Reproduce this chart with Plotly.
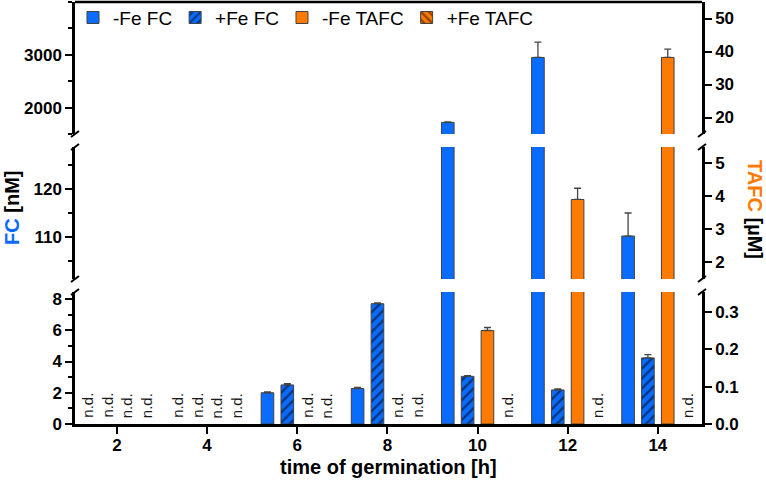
import plotly.graph_objects as go

# ---------------- data ----------------
times = [2, 4, 6, 8, 10, 12, 14]

minus_fe_fc = [None, None, 2.0, 2.27, 1720, 2950, 110.2]          # nM
minus_fe_fc_err = [0, 0, 0.05, 0.07, 10, 290, 4.8]
plus_fe_fc = [None, None, 2.5, 7.7, 3.05, 2.18, 4.23]             # nM
plus_fe_fc_err = [0, 0, 0.08, 0.05, 0.04, 0.06, 0.21]
minus_fe_tafc = [None, None, None, None, 0.25, 3.91, 38.2]        # uM
minus_fe_tafc_err = [0, 0, 0, 0, 0.008, 0.34, 2.5]
plus_fe_tafc = [None, None, None, None, None, None, None]         # uM
plus_fe_tafc_err = [0, 0, 0, 0, 0, 0, 0]

fc_ticks_low = [0, 2, 4, 6, 8]
fc_ticks_mid = [110, 120]
fc_ticks_high = [2000, 3000]
tafc_ticks_low = [0.0, 0.1, 0.2, 0.3]
tafc_ticks_mid = [2, 3, 4, 5]
tafc_ticks_high = [20, 30, 40, 50]

# ---------------- style ----------------
BLUE = "#0a6cff"
ORANGE = "#ff7a00"
FONT = "Arial, Liberation Sans, sans-serif"
W, H = 766, 486
ML, MR, MT, MB = 75, 64, 2, 62

# vertical segment domains (bottom, middle, top)
domains = [[0.0, 0.3128], [0.3436, 0.6564], [0.6872, 1.0]]
fc_ranges = [[0, 8.45], [101.25, 128.75], [1500, 4000]]
tafc_ranges = [[0, 0.353], [1.5, 5.5], [15, 55]]
left_axes = ["y", "y3", "y5"]
right_axes = ["y2", "y4", "y6"]

BARW = 0.28
series = [
    dict(name="-Fe FC", y=minus_fe_fc, err=minus_fe_fc_err, side="L", slot=-0.66,
         color=BLUE, shape=""),
    dict(name="+Fe FC", y=plus_fe_fc, err=plus_fe_fc_err, side="L", slot=-0.22,
         color=BLUE, shape="/"),
    dict(name="-Fe TAFC", y=minus_fe_tafc, err=minus_fe_tafc_err, side="R", slot=0.22,
         color=ORANGE, shape=""),
    dict(name="+Fe TAFC", y=plus_fe_tafc, err=plus_fe_tafc_err, side="R", slot=0.66,
         color=ORANGE, shape="\\"),
]

fig = go.Figure()
for s in series:
    axes = left_axes if s["side"] == "L" else right_axes
    for i, ax in enumerate(axes):
        marker = dict(color=s["color"], line=dict(color="#404040", width=1))
        if s["shape"]:
            marker["pattern"] = dict(shape=s["shape"], bgcolor=s["color"], fgcolor="black",
                                     size=7, solidity=0.35, fillmode="overlay")
        fig.add_trace(go.Bar(
            x=times, y=s["y"], name=s["name"], xaxis="x", yaxis=ax,
            offset=s["slot"] - BARW / 2, width=BARW,
            marker=marker, legendgroup=s["name"], showlegend=(i == 0),
            error_y=dict(type="data", symmetric=False, array=s["err"],
                         arrayminus=[0] * len(times), color="#444444",
                         thickness=1.3, width=3.5),
        ))

# n.d. labels for undetected values
annotations = []
for s in series:
    ax = "y" if s["side"] == "L" else "y2"
    for t, v in zip(times, s["y"]):
        if v is None:
            annotations.append(dict(
                x=t + s["slot"], y=0, xref="x", yref=ax, text="n.d.",
                textangle=-90, showarrow=False, yanchor="bottom", xanchor="center",
                yshift=4, font=dict(family=FONT, size=15, color="#1a1a1a")))

annotations += [
    dict(x=-0.1005, y=0.512, xref="paper", yref="paper", showarrow=False,
         xanchor="center", yanchor="middle",
         text="<b><span style='color:%s'>FC</span> [nM]</b>" % BLUE, textangle=-90,
         font=dict(family=FONT, size=20, color="black")),
    dict(x=1.0845, y=0.507, xref="paper", yref="paper", showarrow=False,
         xanchor="center", yanchor="middle",
         text="<b><span style='color:%s'>TAFC</span> [µM]</b>" % ORANGE, textangle=90,
         font=dict(family=FONT, size=20, color="black")),
    dict(x=0.5, y=-0.102, xref="paper", yref="paper", showarrow=False,
         xanchor="center", yanchor="middle",
         text="<b>time of germination [h]</b>",
         font=dict(family=FONT, size=20, color="black")),
]

tickfont = dict(family=FONT, size=17, color="black", weight="bold")

def yax(domain, rng, ticks, side, minor_dtick=None, overlay=None, fmt=None):
    d = dict(range=rng, tickvals=ticks, tickmode="array", showgrid=False, zeroline=False,
             showline=True, linecolor="black", linewidth=2.5, ticks="outside",
             ticklen=7, tickwidth=2.2, tickcolor="black", tickfont=tickfont,
             side=side, anchor="x", fixedrange=True, automargin=False)
    if overlay:
        d["overlaying"] = overlay
    else:
        d["domain"] = domain
    if minor_dtick:
        d["minor"] = dict(dtick=minor_dtick, tick0=0, ticks="outside", ticklen=4,
                          tickwidth=2, tickcolor="black")
    if fmt:
        d["tickformat"] = fmt
    return d

layout = dict(
    width=W, height=H,
    margin=dict(l=ML, r=MR, t=MT, b=MB, autoexpand=False),
    plot_bgcolor="white", paper_bgcolor="white",
    barmode="overlay",
    font=dict(family=FONT, color="black"),
    xaxis=dict(range=[1.07, 14.98], tickvals=times, tickmode="array", showgrid=False,
               zeroline=False, showline=True, linecolor="black", linewidth=2.5,
               ticks="outside", ticklen=7, tickwidth=2.2, tickcolor="black",
               tickfont=tickfont, anchor="y", fixedrange=True, automargin=False,
               ticklabelstandoff=-3),
    yaxis=yax(domains[0], fc_ranges[0], fc_ticks_low, "left", 1),
    yaxis2=yax(None, tafc_ranges[0], tafc_ticks_low, "right", overlay="y", fmt=".1f"),
    yaxis3=yax(domains[1], fc_ranges[1], fc_ticks_mid, "left", 5),
    yaxis4=yax(None, tafc_ranges[1], tafc_ticks_mid, "right", overlay="y3"),
    yaxis5=yax(domains[2], fc_ranges[2], fc_ticks_high, "left", 500),
    yaxis6=yax(None, tafc_ranges[2], tafc_ticks_high, "right", overlay="y5"),
    legend=dict(orientation="h", x=0, y=1.008, xanchor="left", yanchor="top",
                indentation=-2,
                font=dict(family=FONT, size=19, color="black"),
                bgcolor="rgba(0,0,0,0)", traceorder="normal"),
    annotations=annotations,
)

# top frame line and axis break marks
shapes = [dict(type="line", xref="paper", yref="paper", x0=0, x1=1, y0=1, y1=1,
               line=dict(color="black", width=2.5))]
edges = [domains[0][1], domains[1][0], domains[1][1], domains[2][0]]
for xa in [0, 1]:
    for e in edges:
        shapes.append(dict(type="line", xref="paper", yref="paper",
                           xsizemode="pixel", xanchor=xa, x0=-4, x1=4,
                           ysizemode="pixel", yanchor=e, y0=-3, y1=3,
                           line=dict(color="black", width=2)))
layout["shapes"] = shapes

fig.update_layout(**layout)
fig.write_html("out.html", config={"displayModeBar": False},
               post_script="document.body.style.margin='0';document.body.style.padding='0';")
